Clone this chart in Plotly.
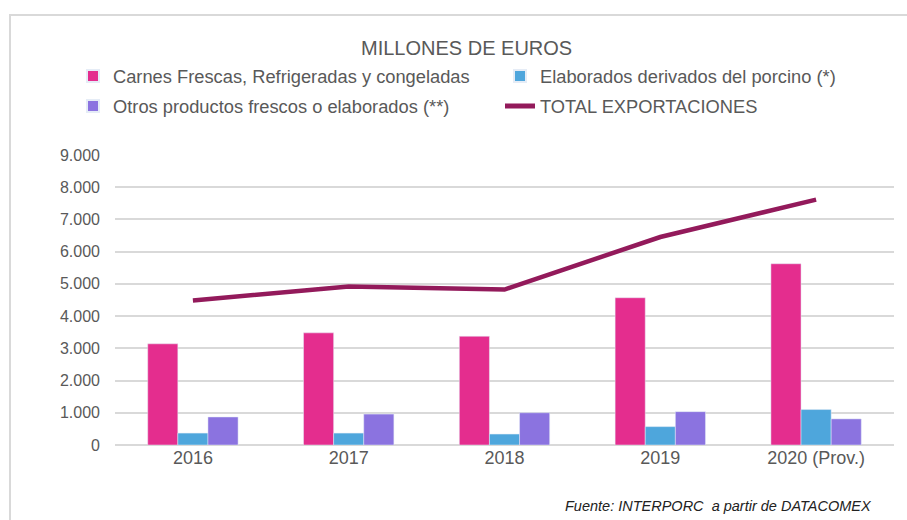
import plotly.graph_objects as go

years = ["2016", "2017", "2018", "2019", "2020 (Prov.)"]
carnes = [3140, 3480, 3375, 4570, 5625]
elaborados = [370, 370, 340, 570, 1100]
otros = [870, 960, 1000, 1035, 810]
total = [4485, 4920, 4825, 6455, 7615]
tick_vals = [0, 1000, 2000, 3000, 4000, 5000, 6000, 7000, 8000, 9000]
tick_text = ["0", "1.000", "2.000", "3.000", "4.000", "5.000", "6.000", "7.000", "8.000", "9.000"]

FONT = "Liberation Sans"
GRAY = "#595959"

L, R, T, B = 115, 13, 155, 75
W, H = 907, 520
pw = W - L - R
ph = H - T - B

def px(x):
    return (x - L) / pw

def py(y):
    return (H - B - y) / ph

fig = go.Figure()
fig.add_trace(go.Bar(x=years, y=carnes, name="Carnes Frescas, Refrigeradas y congeladas",
                     marker_color="#E42D8E", legend="legend"))
fig.add_trace(go.Bar(x=years, y=elaborados, name="Elaborados derivados del porcino (*)",
                     marker_color="#4EA6DC", legend="legend"))
fig.add_trace(go.Bar(x=years, y=otros, name="Otros productos frescos o elaborados (**)",
                     marker_color="#8B73E0", legend="legend2"))
fig.add_trace(go.Scatter(x=years, y=total, name="TOTAL EXPORTACIONES", mode="lines",
                         line=dict(color="#931A5B", width=4.5), legend="legend2"))

legend_common = dict(orientation="h", xanchor="left", yanchor="middle",
                     font=dict(family=FONT, size=18.3, color=GRAY),
                     bgcolor="rgba(0,0,0,0)", entrywidth=382, entrywidthmode="pixels",
                     itemsizing="constant", traceorder="normal", tracegroupgap=0)

fig.update_layout(
    width=W, height=H,
    margin=dict(l=L, r=R, t=T, b=B, autoexpand=False),
    paper_bgcolor="white", plot_bgcolor="white",
    barmode="group", bargap=0.42, bargroupgap=0,
    font=dict(family=FONT, color=GRAY),
    showlegend=True,
    legend=dict(x=px(73), y=py(76), **legend_common),
    legend2=dict(x=px(73), y=py(106), **legend_common),
    xaxis=dict(showgrid=False, showline=False, ticks="",
               tickfont=dict(family=FONT, size=18, color=GRAY)),
    yaxis=dict(range=[0, 9000], tickvals=tick_vals, ticktext=tick_text,
               showgrid=True, gridcolor="#D9D9D9", gridwidth=1.5,
               zeroline=True, zerolinecolor="#D9D9D9", zerolinewidth=1.5,
               showline=False, ticks="", ticklabelstandoff=14,
               tickfont=dict(family=FONT, size=16, color=GRAY)),
    annotations=[
        dict(text="MILLONES DE EUROS", x=px(466), y=py(48), xref="paper", yref="paper",
             xanchor="center", yanchor="middle", showarrow=False,
             font=dict(family=FONT, size=20, color=GRAY)),
        dict(text="<i>Fuente: INTERPORC  a partir de DATACOMEX</i>", x=px(874), y=py(506),
             xref="paper", yref="paper", xanchor="right", yanchor="middle", showarrow=False,
             font=dict(family=FONT, size=14.5, color="#222222")),
    ],
    shapes=[dict(type="rect", xref="paper", yref="paper", x0=px(10), x1=px(915),
                 y0=py(530), y1=py(15), line=dict(color="#D9D9D9", width=2),
                 fillcolor="rgba(0,0,0,0)", layer="below")],
)

fig.write_html("out.html", config={"displayModeBar": False},
               post_script="document.body.style.margin='0px';")
